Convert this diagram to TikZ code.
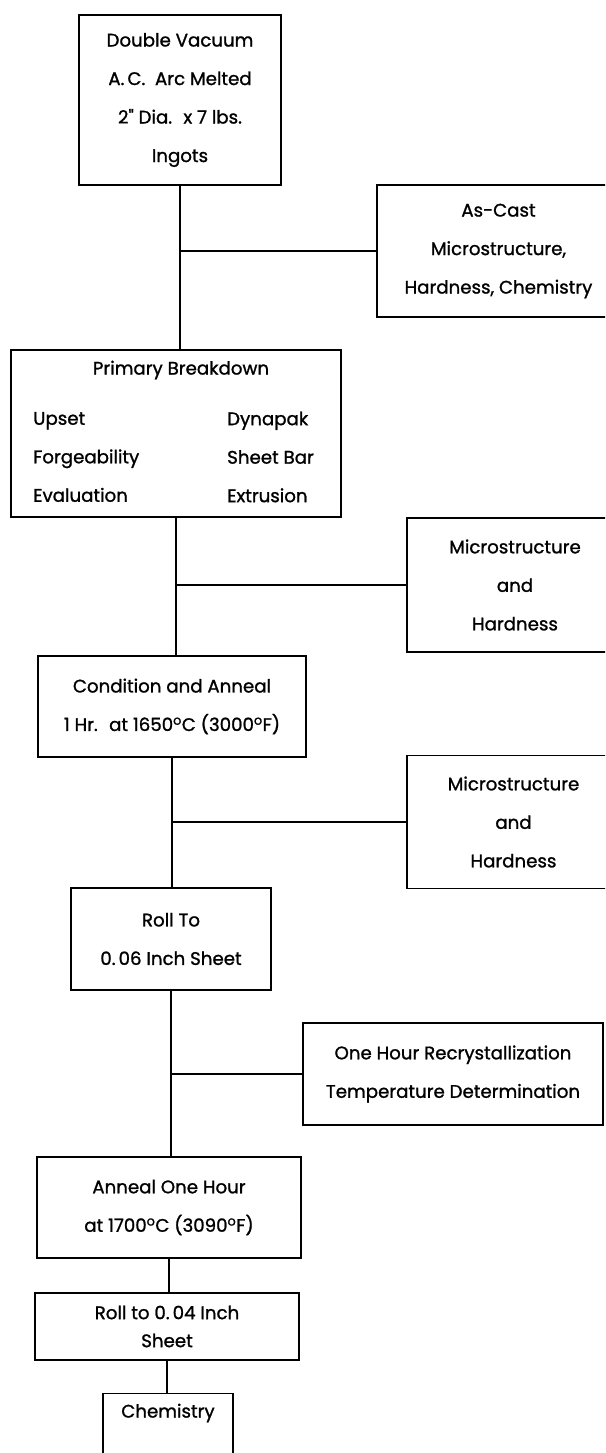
\documentclass[tikz,border=0pt]{standalone}
\usepackage{fontspec}
\setmainfont{Poppins}[FakeBold=1.2, Ligatures=TeXOff]
\usetikzlibrary{calc}
\newcommand\fsz{\fontsize{18.2}{38.5}\selectfont}
\newcommand\fszb{\fontsize{18.2}{28}\selectfont}
\newcommand\dg{\textsuperscript{o}}
\tikzset{
  box/.style={draw, line width=1.4pt, inner sep=0pt, align=center, font=\fsz},
  conn/.style={line width=1.4pt},
  txt/.style={inner sep=0pt, font=\fsz},
}
\begin{document}
\begin{tikzpicture}[x=1pt,y=-1pt]
\useasboundingbox (0,0) rectangle (605,1453);
\clip (0,0) rectangle (605,1453);
% boxes
\node[box, minimum width=202, minimum height=170] (n1) at (180,100)
  {Double Vacuum\\A.\,C.~ Arc Melted\\2" Dia.~ x 7 lbs.\\Ingots};
\node[box, minimum width=243, minimum height=132] (ascast) at (498.5,251)
  {As-Cast\\Microstructure,\\Hardness, Chemistry};
\node[box, minimum width=330, minimum height=167] (prim) at (176,433.5) {};
\node[txt] (primt) at (181,370) {Primary Breakdown};
\node[txt, align=left, anchor=west] (priml) at (33,457) {Upset\\Forgeability\\Evaluation};
\node[txt, align=left, anchor=west] (primr) at (227,457) {Dynapak\\Sheet Bar\\Extrusion};
\node[box, minimum width=216, minimum height=134] (micro1) at (515,585)
  {Microstructure\\and\\Hardness};
\node[box, minimum width=268, minimum height=101] (cond) at (172,706.5)
  {Condition and Anneal\\1 Hr.~ at 1650\dg C (3000\dg F)};
\node[box, minimum width=213, minimum height=133] (micro2) at (513.5,822)
  {Microstructure\\and\\Hardness};
\node[box, minimum width=200, minimum height=102] (roll1) at (171,939)
  {Roll To\\0.\,06 Inch Sheet};
\node[box, minimum width=300, minimum height=102] (recr) at (453,1074)
  {One Hour Recrystallization\\Temperature Determination};
\node[box, minimum width=264, minimum height=101] (ann) at (169,1207.5)
  {Anneal One Hour\\at 1700\dg C (3090\dg F)};
\node[box, font=\fszb, minimum width=264, minimum height=67] (roll2) at (167,1326.5)
  {Roll to 0.\,04 Inch\\Sheet};
\node[box, anchor=north, minimum width=130, minimum height=120] (chem) at (168,1393) {};
\node[txt] (chemt) at ($(chem.north)+(0,20)$) {Chemistry};
% connectors
\draw[conn] (n1.south) -- (n1.south |- prim.north);
\draw[conn] (n1.south |- ascast.west) -- (ascast.west);
\draw[conn] (prim.south) -- (prim.south |- cond.north);
\draw[conn] (prim.south |- micro1.west) -- (micro1.west);
\draw[conn] (cond.south) -- (cond.south |- roll1.north);
\draw[conn] (cond.south |- micro2.west) -- (micro2.west);
\draw[conn] (roll1.south) -- (roll1.south |- ann.north);
\draw[conn] (roll1.south |- recr.west) -- (recr.west);
\draw[conn] (ann.south) -- (ann.south |- roll2.north);
\draw[conn] (roll2.south) -- (roll2.south |- chem.north);
\end{tikzpicture}
\end{document}
